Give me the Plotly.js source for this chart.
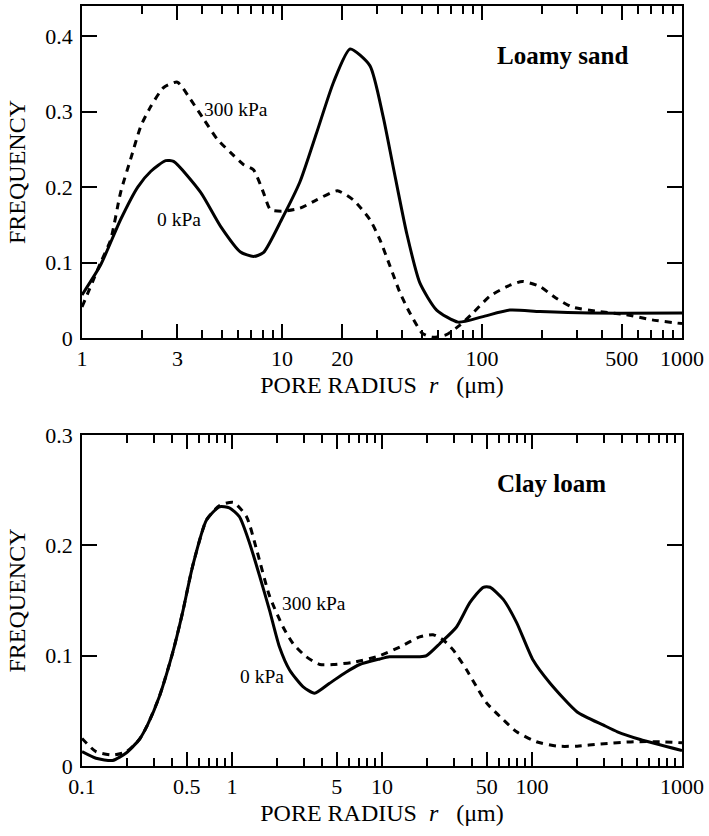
<!DOCTYPE html>
<html>
<head>
<meta charset="utf-8">
<script src="https://cdn.plot.ly/plotly-3.0.1.min.js"></script>
<style>html,body{margin:0;padding:0;background:#fff;}#chart{width:709px;height:836px;}</style>
</head>
<body>
<div id="chart"></div>
<script>
// ---- Loamy sand (top panel) ----
const sandR0 = [1, 1.24, 1.56, 1.9, 2.21, 2.62, 2.87, 3.92, 4.93, 6.2, 7.2, 8.07, 10, 12.3, 14.9, 18.1, 21.9, 27.5, 32, 35.9, 42, 48.9, 59.3, 76, 100, 138, 195, 346, 1000];
const sandF0 = [0.057, 0.097, 0.157, 0.2, 0.221, 0.235, 0.234, 0.193, 0.148, 0.114, 0.108, 0.113, 0.158, 0.207, 0.272, 0.339, 0.383, 0.361, 0.294, 0.228, 0.139, 0.073, 0.037, 0.021, 0.028, 0.037, 0.035, 0.033, 0.033];
const sandR300 = [1, 1.24, 1.39, 1.56, 1.75, 1.97, 2.21, 2.56, 3.0, 3.49, 4.06, 4.76, 5.52, 6.41, 7.2, 8.07, 8.75, 10, 12.3, 14.9, 18.9, 22.7, 27.5, 30.9, 34.7, 38.9, 43.6, 50.4, 56.5, 66, 77.6, 90, 109, 133, 159, 195, 234, 282, 385, 525, 707, 1000];
const sandF300 = [0.041, 0.1, 0.13, 0.193, 0.237, 0.281, 0.307, 0.332, 0.339, 0.316, 0.29, 0.263, 0.246, 0.23, 0.223, 0.193, 0.17, 0.168, 0.172, 0.183, 0.195, 0.183, 0.157, 0.13, 0.095, 0.06, 0.033, 0.006, 0.001, 0.004, 0.017, 0.033, 0.055, 0.068, 0.075, 0.068, 0.053, 0.041, 0.035, 0.031, 0.024, 0.019];

// ---- Clay loam (bottom panel) ----
const clayR0 = [0.1, 0.124, 0.16, 0.198, 0.241, 0.273, 0.328, 0.401, 0.468, 0.546, 0.676, 0.826, 0.96, 1.12, 1.31, 1.53, 1.78, 2.07, 2.42, 2.97, 3.55, 4.47, 5.75, 7.1, 9.66, 11.2, 17.8, 19.8, 24.3, 31.4, 38.5, 47.3, 52.5, 64.3, 79, 101.6, 132, 200, 300, 371, 527, 1000];
const clayF0 = [0.013, 0.007, 0.005, 0.012, 0.024, 0.037, 0.063, 0.102, 0.139, 0.181, 0.223, 0.235, 0.234, 0.226, 0.202, 0.172, 0.141, 0.108, 0.087, 0.072, 0.066, 0.075, 0.085, 0.092, 0.097, 0.099, 0.099, 0.1, 0.111, 0.126, 0.148, 0.162, 0.162, 0.151, 0.13, 0.096, 0.075, 0.049, 0.037, 0.031, 0.024, 0.014];
const clayR300 = [0.1, 0.124, 0.16, 0.198, 0.241, 0.273, 0.328, 0.401, 0.468, 0.546, 0.676, 0.826, 1.02, 1.25, 1.46, 1.78, 2.19, 2.55, 3.13, 3.85, 4.72, 6.41, 9.2, 13.2, 17.8, 21.9, 25.7, 29.9, 36.7, 42.6, 49.9, 64.3, 79, 107, 146, 200, 286, 478, 716, 1000];
const clayF300 = [0.025, 0.013, 0.01, 0.013, 0.024, 0.037, 0.063, 0.102, 0.139, 0.181, 0.223, 0.236, 0.239, 0.226, 0.196, 0.154, 0.126, 0.111, 0.099, 0.092, 0.092, 0.094, 0.099, 0.108, 0.117, 0.119, 0.114, 0.105, 0.087, 0.072, 0.057, 0.042, 0.031, 0.022, 0.018, 0.018, 0.02, 0.022, 0.022, 0.021];

// ---- tick labels ----
const sandXLabels = [1, 3, 10, 20, 100, 500, 1000];
const clayXLabels = [0.1, 0.5, 1, 5, 10, 50, 100, 1000];
const freqTicksSand = [0, 0.1, 0.2, 0.3, 0.4];
const freqTicksClay = [0, 0.1, 0.2, 0.3];

const FONT = '"Liberation Serif", "Times New Roman", serif';
const solid = {color: '#000', width: 3, shape: 'spline', smoothing: 0.6};
const dashed = {color: '#000', width: 3, dash: '7px,6px', shape: 'spline', smoothing: 0.6};

const traces = [
  {x: sandR0, y: sandF0, xaxis: 'x', yaxis: 'y', mode: 'lines', line: solid, name: '0 kPa'},
  {x: sandR300, y: sandF300, xaxis: 'x', yaxis: 'y', mode: 'lines', line: dashed, name: '300 kPa'},
  {x: clayR0, y: clayF0, xaxis: 'x2', yaxis: 'y2', mode: 'lines', line: solid, name: '0 kPa'},
  {x: clayR300, y: clayF300, xaxis: 'x2', yaxis: 'y2', mode: 'lines', line: dashed, name: '300 kPa'}
];

function tickFont() { return {family: FONT, size: 22, color: '#000'}; }
function titleFont() { return {family: FONT, size: 24, color: '#000'}; }

function xMain(range, labels, anchor) {
  return {
    type: 'log', range: range, anchor: anchor,
    tickmode: 'array', tickvals: labels, ticktext: labels.map(String),
    ticks: 'inside', ticklen: 14, tickwidth: 1.8, tickcolor: '#000',
    minor: {dtick: 'D1', ticks: 'inside', ticklen: 8, tickwidth: 1.8, tickcolor: '#000', showgrid: false},
    showline: true, linecolor: '#000', linewidth: 1.8, mirror: 'allticks',
    showgrid: false, zeroline: false, tickfont: tickFont(),
    title: {text: 'PORE RADIUS\u00a0\u00a0<i>r</i>\u00a0\u00a0\u00a0(\u03bcm)', font: titleFont(), standoff: 6}
  };
}
function yMain(range, domain, anchor, vals) {
  return {
    range: range, domain: domain, anchor: anchor,
    tickmode: 'array', tickvals: vals, ticktext: vals.map(String),
    ticks: 'inside', ticklen: 15, tickwidth: 1.8, tickcolor: '#000',
    showline: true, linecolor: '#000', linewidth: 1.8, mirror: 'allticks',
    showgrid: false, zeroline: false, tickfont: tickFont(), ticklabelstandoff: 3,
    title: {text: 'FREQUENCY', font: titleFont(), standoff: 13}
  };
}
function note(xref, yref, x, y, text, size) {
  return {xref: xref, yref: yref, x: x, y: y, xanchor: 'center', yanchor: 'middle', text: text, showarrow: false, font: {family: FONT, size: size, color: '#000'}};
}

const layout = {
  width: 709, height: 836,
  margin: {l: 82, r: 27, t: 6, b: 70},
  showlegend: false,
  font: {family: FONT, size: 20, color: '#000'},
  xaxis: xMain([0, 3], sandXLabels, 'y'),
  yaxis: yMain([0, 0.44], [0.5632, 1], 'x', freqTicksSand),
  xaxis2: xMain([-1, 3], clayXLabels, 'y2'),
  yaxis2: yMain([0, 0.3], [0, 0.4355], 'x2', freqTicksClay),
  annotations: [
    note('x domain', 'y domain', 0.8, 0.852, '<b>Loamy sand</b>', 25),
    note('x domain', 'y domain', 0.257, 0.687, '300 kPa', 19.5),
    note('x domain', 'y domain', 0.161, 0.358, '0 kPa', 19.5),
    note('x2 domain', 'y2 domain', 0.782, 0.855, '<b>Clay loam</b>', 25),
    note('x2 domain', 'y2 domain', 0.386, 0.492, '300 kPa', 19.5),
    note('x2 domain', 'y2 domain', 0.30, 0.269, '0 kPa', 19.5)
  ]
};

Plotly.newPlot('chart', traces, layout, {displayModeBar: false});
</script>
</body>
</html>
